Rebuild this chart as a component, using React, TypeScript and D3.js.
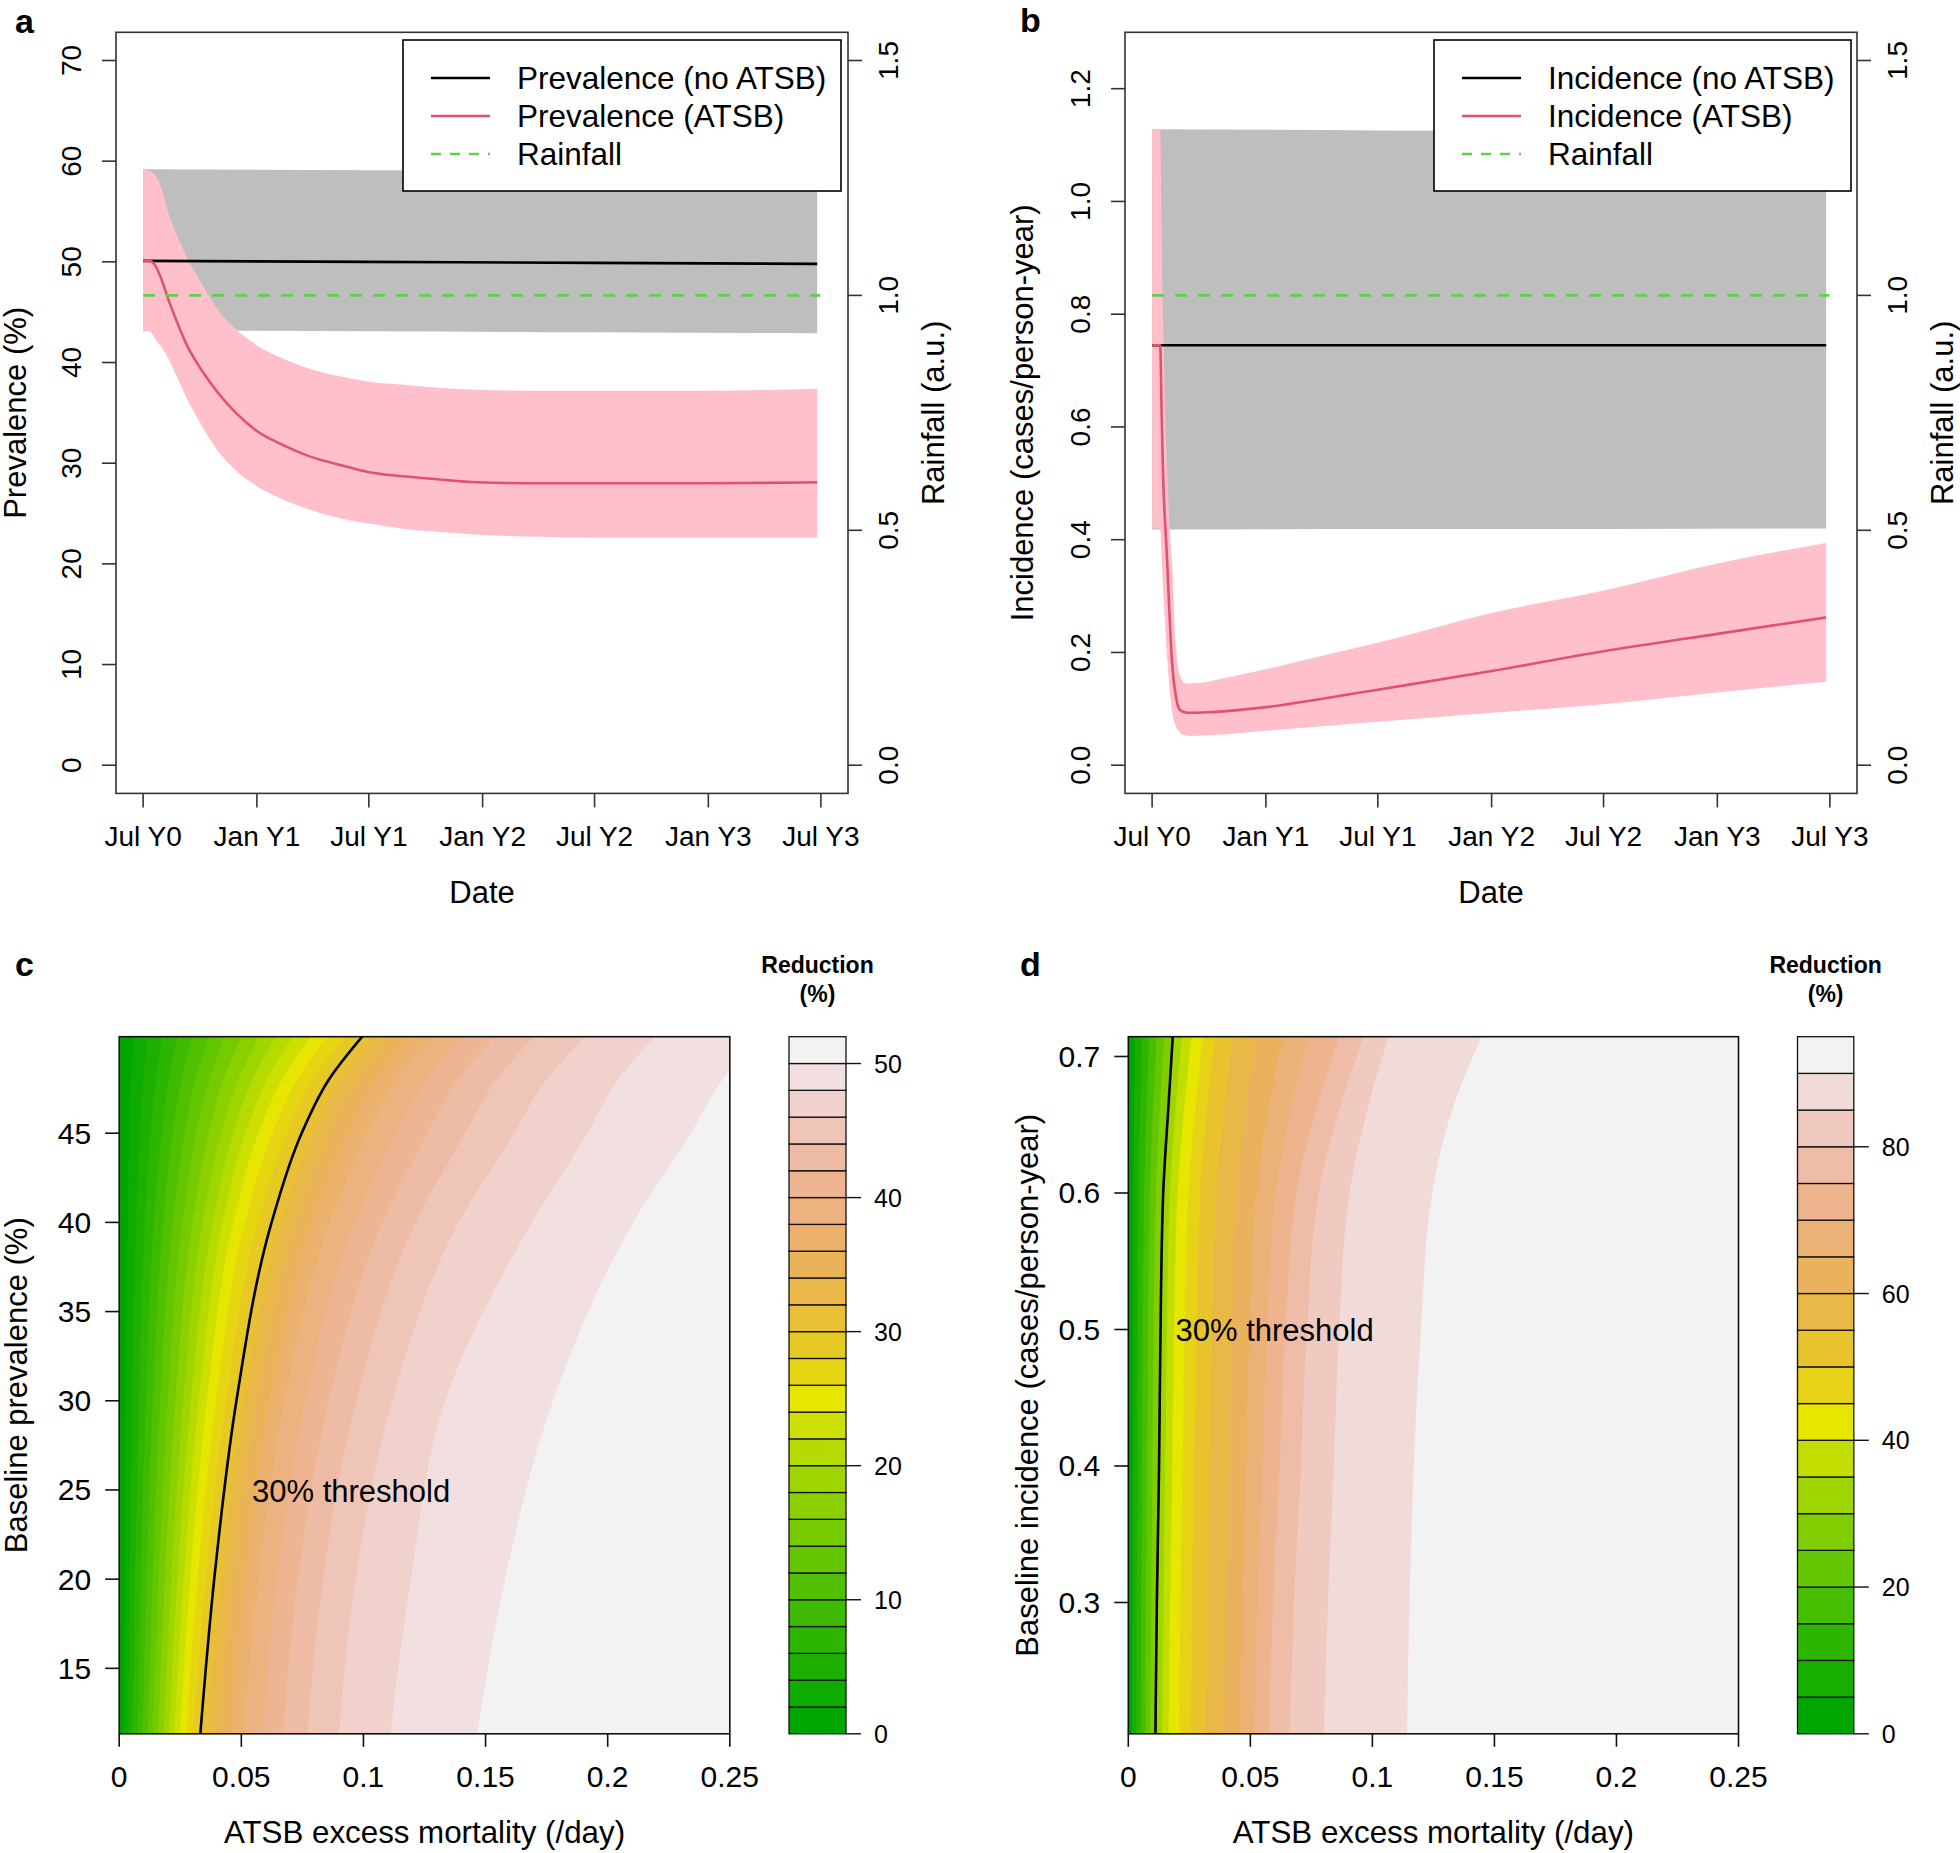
import React, { useEffect, useRef } from "react";
import * as d3 from "d3";

const W = 1960;
const H = 1853;
const FONT = "'Liberation Sans', Arial, Helvetica, sans-serif";

// ---- time axis (days since Jul Y0) ----
const tickDays = [0, 184, 365, 549, 730, 914, 1096];
const tickLabels = ["Jul Y0", "Jan Y1", "Jul Y1", "Jan Y2", "Jul Y2", "Jan Y3", "Jul Y3"];

// ---- panel a: prevalence ----
const prevNoDays = [0, 365, 730, 1090];
const prevNo = [50.1, 50.0, 49.9, 49.8];
const prevNoHi = [59.2, 59.1, 59.0, 58.9];
const prevNoLo = [43.2, 43.1, 43.0, 42.9];

const prevDays = [0, 10, 20, 30, 40, 55, 71, 95, 121, 150, 184, 230, 273, 320, 365, 420, 476, 540, 640, 730, 916, 1090];
const prevAtsb = [50.1, 50.1, 49.6, 48.2, 46.4, 44.0, 41.7, 39.2, 37.0, 35.0, 33.2, 31.7, 30.6, 29.8, 29.1, 28.7, 28.4, 28.1, 28.0, 28.0, 28.0, 28.1];
const prevAtsbHi = [59.2, 59.0, 58.6, 57.2, 55.0, 52.6, 50.4, 47.8, 45.2, 43.3, 41.7, 40.3, 39.3, 38.6, 38.1, 37.8, 37.5, 37.3, 37.2, 37.2, 37.2, 37.4];
const prevAtsbLo = [43.1, 43.1, 42.3, 41.5, 40.5, 38.5, 36.4, 33.7, 31.2, 29.3, 27.7, 26.3, 25.3, 24.5, 24.0, 23.5, 23.2, 22.9, 22.7, 22.6, 22.6, 22.6];

// ---- panel b: incidence ----
const incNoDays = [0, 365, 730, 1090];
const incNo = [0.745, 0.745, 0.745, 0.745];
const incNoHi = [1.128, 1.126, 1.124, 1.12];
const incNoLo = [0.418, 0.419, 0.419, 0.42];

const incDays = [0, 13, 15.5, 18, 21, 24, 28, 32, 38, 45, 53, 61, 90, 120, 184, 275, 365, 549, 730, 914, 1090];
const incAtsb = [0.745, 0.745, 0.62, 0.505, 0.43, 0.37, 0.27, 0.186, 0.125, 0.098, 0.094, 0.093, 0.094, 0.096, 0.103, 0.118, 0.134, 0.167, 0.202, 0.233, 0.262];
const incAtsbHi = [1.128, 1.128, 0.93, 0.78, 0.63, 0.53, 0.43, 0.364, 0.22, 0.16, 0.146, 0.145, 0.148, 0.155, 0.17, 0.194, 0.217, 0.27, 0.31, 0.358, 0.394];
const incAtsbLo = [0.42, 0.42, 0.364, 0.31, 0.25, 0.195, 0.14, 0.097, 0.07, 0.058, 0.053, 0.052, 0.053, 0.055, 0.061, 0.069, 0.077, 0.093, 0.108, 0.129, 0.148];

const rainDays = [0, 1095];
const rain = [1, 1];

// ---- panel c: reduction in prevalence, contour edges (mortality at each level, per baseline row) ----
const cLevels = [0, 2, 4, 6, 8, 10, 12, 14, 16, 18, 20, 22, 24, 26, 28, 30, 32, 34, 36, 38, 40, 42, 44, 46, 48, 50, 52];
const cRows = [11.3, 20, 30, 40, 45, 48, 50.5];
const cEdges = [
  [0.0018, 0.0037, 0.0056, 0.0076, 0.0096, 0.0117, 0.0137, 0.0159, 0.0182, 0.0204, 0.0225, 0.0248, 0.0274, 0.0302, 0.0332, 0.0368, 0.0408, 0.0455, 0.051, 0.0585, 0.067, 0.077, 0.09, 0.111, 0.1466],
  [0.0021, 0.0043, 0.0065, 0.0089, 0.0112, 0.0137, 0.0161, 0.0187, 0.0213, 0.0238, 0.0264, 0.0291, 0.0321, 0.0354, 0.0389, 0.0425, 0.0465, 0.0513, 0.057, 0.0646, 0.0732, 0.0834, 0.0968, 0.1194, 0.158],
  [0.0026, 0.0053, 0.0081, 0.0109, 0.0138, 0.0168, 0.0199, 0.023, 0.0263, 0.0294, 0.0326, 0.0359, 0.0396, 0.0437, 0.048, 0.052, 0.0564, 0.0617, 0.0679, 0.0763, 0.0858, 0.0971, 0.1118, 0.1335, 0.1776],
  [0.0034, 0.0069, 0.0105, 0.0142, 0.018, 0.0219, 0.0258, 0.03, 0.0341, 0.0383, 0.0424, 0.0467, 0.0515, 0.0568, 0.0624, 0.0671, 0.0725, 0.0789, 0.0863, 0.0964, 0.1078, 0.1213, 0.139, 0.169, 0.2105],
  [0.0041, 0.0085, 0.0128, 0.0174, 0.0219, 0.0267, 0.0315, 0.0366, 0.0417, 0.0467, 0.0517, 0.057, 0.0627, 0.0688, 0.0747, 0.0801, 0.0862, 0.0934, 0.1018, 0.1133, 0.1263, 0.1416, 0.1617, 0.1917, 0.234],
  [0.0048, 0.0099, 0.015, 0.0203, 0.0256, 0.0312, 0.0368, 0.0427, 0.0487, 0.0545, 0.0604, 0.0666, 0.0728, 0.0794, 0.0858, 0.0914, 0.0976, 0.105, 0.1136, 0.1254, 0.1387, 0.1543, 0.1749, 0.2042, 0.247],
  [0.0057, 0.0117, 0.0177, 0.024, 0.0303, 0.037, 0.0436, 0.0505, 0.0576, 0.0645, 0.0715, 0.0788, 0.0856, 0.093, 0.1, 0.1057, 0.1121, 0.1197, 0.1286, 0.1407, 0.1544, 0.1705, 0.1917, 0.22, 0.262],
];

// ---- panel d: reduction in incidence ----
const dLevels = [0, 5, 10, 15, 20, 25, 30, 35, 40, 45, 50, 55, 60, 65, 70, 75, 80, 85, 90, 95];
const dRows = [0.2, 0.3, 0.4, 0.5, 0.6, 0.665, 0.72];
const dEdges = [
  [0.0016, 0.0033, 0.0051, 0.007, 0.009, 0.0111, 0.0139, 0.0165, 0.0208, 0.0255, 0.0317, 0.0392, 0.0454, 0.0515, 0.0575, 0.066, 0.0801, 0.1142],
  [0.0017, 0.0034, 0.0053, 0.0073, 0.0094, 0.0117, 0.0144, 0.0171, 0.0214, 0.0261, 0.0324, 0.04, 0.0465, 0.0529, 0.0593, 0.0679, 0.0818, 0.1152],
  [0.0018, 0.0037, 0.0056, 0.0077, 0.0099, 0.0126, 0.0151, 0.018, 0.0223, 0.027, 0.0334, 0.0413, 0.0482, 0.055, 0.062, 0.0707, 0.0842, 0.117],
  [0.0019, 0.0039, 0.0059, 0.0081, 0.0104, 0.0132, 0.0158, 0.0187, 0.0231, 0.0279, 0.0344, 0.0424, 0.0496, 0.0568, 0.0644, 0.0732, 0.0864, 0.1199],
  [0.0021, 0.0042, 0.0065, 0.0088, 0.0113, 0.0143, 0.0171, 0.0202, 0.0247, 0.0294, 0.0361, 0.0444, 0.0524, 0.0603, 0.0689, 0.078, 0.0906, 0.1245],
  [0.0024, 0.0049, 0.0075, 0.0102, 0.013, 0.0165, 0.0195, 0.023, 0.0276, 0.0324, 0.0395, 0.0484, 0.0577, 0.067, 0.0776, 0.0871, 0.0985, 0.1335],
  [0.0028, 0.0057, 0.0087, 0.0118, 0.015, 0.0184, 0.0222, 0.0262, 0.031, 0.0358, 0.0433, 0.0529, 0.0638, 0.0747, 0.0875, 0.0975, 0.1076, 0.1462],
];

const mortTicks = [0, 0.05, 0.1, 0.15, 0.2, 0.25];

// R's hsv() and terrain.colors()
function hsv(h, s, v) {
  const hh = ((h * 6) % 6 + 6) % 6;
  const i = Math.floor(hh + 1e-9) % 6;
  const f = Math.max(0, hh - i);
  const p = v * (1 - s);
  const q = v * (1 - f * s);
  const t = v * (1 - (1 - f) * s);
  const rgb = [[v, t, p], [q, v, p], [p, v, t], [p, q, v], [t, p, v], [v, p, q]][i];
  return d3.rgb(rgb[0] * 255, rgb[1] * 255, rgb[2] * 255).formatHex();
}

function terrainColors(n) {
  const k = Math.floor(n / 2);
  const out = [];
  for (let i = 0; i < k; i++) {
    const t = k > 1 ? i / (k - 1) : 0;
    out.push(hsv(4 / 12 - (2 / 12) * t, 1, 0.65 + 0.25 * t));
  }
  for (let j = 1; j <= n - k; j++) {
    const t = j / (n - k);
    out.push(hsv(2 / 12 - (2 / 12) * t, 1 - t, 0.9 + 0.05 * t));
  }
  return out;
}

const t0 = Date.UTC(2001, 6, 1);
const dayToDate = (d) => new Date(t0 + d * 864e5);

function txt(g, x, y, s, size, opts: any = {}) {
  const el = g
    .append("text")
    .attr("x", x)
    .attr("y", y)
    .attr("font-family", FONT)
    .attr("font-size", size)
    .attr("fill", "#000")
    .attr("dominant-baseline", opts.baseline || "central")
    .attr("text-anchor", opts.anchor || "middle")
    .text(s);
  if (opts.bold) el.attr("font-weight", "bold");
  if (opts.rotate) el.attr("transform", `rotate(-90, ${x}, ${y})`);
  return el;
}

function drawTime(svg, o) {
  const { l, r, t, b } = o.box;
  const pad = ((r - l) * 0.04) / 1.08;
  const x = d3.scaleUtc().domain([dayToDate(0), dayToDate(1096)]).range([l + pad, r - pad]);
  const y = d3.scaleLinear().domain(o.yDomain).range([b, t]);
  const y2 = d3.scaleLinear().domain([-0.06, 1.56]).range([b, t]);
  const g = svg.append("g");

  const pts = (days, v, lo, hi) => days.map((d, i) => ({ d, v: v[i], lo: lo ? lo[i] : 0, hi: hi ? hi[i] : 0 }));
  const band = d3
    .area<any>()
    .x((p) => x(dayToDate(p.d)))
    .y0((p) => y(p.lo))
    .y1((p) => y(p.hi))
    .curve(d3.curveMonotoneX);
  const line = d3
    .line<any>()
    .x((p) => x(dayToDate(p.d)))
    .y((p) => y(p.v))
    .curve(d3.curveMonotoneX);

  const noPts = pts(o.noDays, o.no, o.noLo, o.noHi);
  const atPts = pts(o.atDays, o.at, o.atLo, o.atHi);

  g.append("path").attr("d", band(noPts)).attr("fill", "#BEBEBE");
  g.append("path").attr("d", band(atPts)).attr("fill", "#FFC0CB");
  g.append("path").attr("d", line(noPts)).attr("fill", "none").attr("stroke", "#000").attr("stroke-width", 2.6);
  g.append("path").attr("d", line(atPts)).attr("fill", "none").attr("stroke", "#DF536B").attr("stroke-width", 2.6);
  g.append("path")
    .attr(
      "d",
      d3
        .line<any>()
        .x((p) => x(dayToDate(p.d)))
        .y((p) => y2(p.v))(pts(rainDays, rain, null, null))
    )
    .attr("fill", "none")
    .attr("stroke", "#61D04F")
    .attr("stroke-width", 2.6)
    .attr("stroke-dasharray", "12,11");

  // box
  g.append("rect").attr("x", l).attr("y", t).attr("width", r - l).attr("height", b - t).attr("fill", "none").attr("stroke", "#333").attr("stroke-width", 1.6);

  // x axis
  tickDays.forEach((d, i) => {
    const px = x(dayToDate(d));
    g.append("line").attr("x1", px).attr("x2", px).attr("y1", b).attr("y2", b + 14).attr("stroke", "#333").attr("stroke-width", 1.6);
    txt(g, px, b + 43, tickLabels[i], 28);
  });
  txt(g, (l + r) / 2, b + 99, "Date", 31);

  // left axis
  o.yTicks.forEach((v) => {
    g.append("line").attr("x1", l - 14).attr("x2", l).attr("y1", y(v)).attr("y2", y(v)).attr("stroke", "#333").attr("stroke-width", 1.6);
    txt(g, l - 44, y(v), o.yFmt(v), 28, { rotate: true });
  });
  txt(g, o.yTitleX, (t + b) / 2, o.yTitle, 31, { rotate: true });

  // right axis (rainfall)
  [0, 0.5, 1, 1.5].forEach((v) => {
    g.append("line").attr("x1", r).attr("x2", r + 14).attr("y1", y2(v)).attr("y2", y2(v)).attr("stroke", "#333").attr("stroke-width", 1.6);
    txt(g, r + 41, y2(v), d3.format(".1f")(v), 28, { rotate: true });
  });
  txt(g, r + 86, (t + b) / 2, "Rainfall (a.u.)", 31, { rotate: true });

  // legend
  const L = o.legend;
  g.append("rect").attr("x", L.x).attr("y", L.y).attr("width", L.w).attr("height", L.h).attr("fill", "#fff").attr("stroke", "#000").attr("stroke-width", 1.6);
  const entries = [
    { label: o.names[0], color: "#000", dash: null },
    { label: o.names[1], color: "#DF536B", dash: null },
    { label: "Rainfall", color: "#61D04F", dash: "12,11" },
  ];
  entries.forEach((e, i) => {
    const ey = L.y + 38 + i * 38;
    const ln = g.append("line").attr("x1", L.x + 28).attr("x2", L.x + 87).attr("y1", ey).attr("y2", ey).attr("stroke", e.color).attr("stroke-width", 2.6);
    if (e.dash) ln.attr("stroke-dasharray", "10,9");
    txt(g, L.x + 114, ey, e.label, 31.5, { anchor: "start" });
  });

  txt(g, o.tag.x, o.tag.y, o.tag.s, 34, { anchor: "start", baseline: "alphabetic", bold: true });
}

function drawContour(svg, o) {
  const { l, r, t, b } = o.box;
  const x = d3.scaleLinear().domain([0, 0.25]).range([l, r]);
  const y = d3.scaleLinear().domain(o.yDomain).range([b, t]);
  const colors = terrainColors(o.levels.length - 1);
  const clipId = o.id + "-clip";
  svg.append("clipPath").attr("id", clipId).append("rect").attr("x", l).attr("y", t).attr("width", r - l).attr("height", b - t);
  const g = svg.append("g").attr("clip-path", `url(#${clipId})`);
  g.append("rect").attr("x", l).attr("y", t).attr("width", r - l).attr("height", b - t).attr("fill", colors[0]);

  const area = d3
    .area<any>()
    .y((p) => y(p[1]))
    .x0((p) => x(p[0]))
    .x1(() => r + 20)
    .curve(d3.curveMonotoneY);
  const edge = (k) => o.rows.map((p, ri) => [o.edges[ri][k], p]).reverse();
  const nEdges = o.edges[0].length;
  for (let k = 0; k < nEdges; k++) {
    g.append("path").attr("d", area(edge(k))).attr("fill", colors[k + 1]);
  }
  const contour = d3
    .line<any>()
    .x((p) => x(p[0]))
    .y((p) => y(p[1]))
    .curve(d3.curveMonotoneY);
  g.append("path").attr("d", contour(edge(o.thresholdIndex))).attr("fill", "none").attr("stroke", "#000").attr("stroke-width", 2.6);

  const a = svg.append("g");
  a.append("rect").attr("x", l).attr("y", t).attr("width", r - l).attr("height", b - t).attr("fill", "none").attr("stroke", "#111").attr("stroke-width", 1.6);
  mortTicks.forEach((v) => {
    a.append("line").attr("x1", x(v)).attr("x2", x(v)).attr("y1", b).attr("y2", b + 13).attr("stroke", "#111").attr("stroke-width", 1.6);
    txt(a, x(v), b + 43, String(v), 30);
  });
  txt(a, (l + r) / 2, b + 99, "ATSB excess mortality (/day)", 31.3);
  o.yTicks.forEach((v) => {
    a.append("line").attr("x1", l - 14).attr("x2", l).attr("y1", y(v)).attr("y2", y(v)).attr("stroke", "#111").attr("stroke-width", 1.6);
    txt(a, l - 28, y(v), o.yFmt(v), 30, { anchor: "end" });
  });
  txt(a, o.yTitleX, (t + b) / 2, o.yTitle, 31, { rotate: true });
  txt(a, o.label.x, o.label.y, "30% threshold", 31, { anchor: "start" });

  // colour key
  const cb = o.key;
  const lv = o.levels;
  const cy = d3.scaleLinear().domain([lv[0], lv[lv.length - 1]]).range([b, t]);
  for (let i = 0; i < lv.length - 1; i++) {
    a.append("rect")
      .attr("x", cb.l)
      .attr("y", cy(lv[i + 1]))
      .attr("width", cb.r - cb.l)
      .attr("height", cy(lv[i]) - cy(lv[i + 1]))
      .attr("fill", colors[i])
      .attr("stroke", "#111")
      .attr("stroke-width", 1.3);
  }
  o.keyTicks.forEach((v) => {
    a.append("line").attr("x1", cb.r).attr("x2", cb.r + 15).attr("y1", cy(v)).attr("y2", cy(v)).attr("stroke", "#111").attr("stroke-width", 1.4);
    txt(a, cb.r + 28, cy(v), String(v), 25, { anchor: "start" });
  });
  const kx = (cb.l + cb.r) / 2;
  txt(a, kx, 965, "Reduction", 23, { bold: true });
  txt(a, kx, 994, "(%)", 23, { bold: true });
  txt(a, o.tag.x, o.tag.y, o.tag.s, 34, { anchor: "start", baseline: "alphabetic", bold: true });
}

export default function App() {
  const svgRef = useRef<SVGSVGElement>(null);

  useEffect(() => {
    const svg = d3.select(svgRef.current);
    svg.selectAll("*").remove();

    drawTime(svg, {
      box: { l: 116, r: 848, t: 32.3, b: 793.4 },
      yDomain: [-2.8, 72.8],
      yTicks: [0, 10, 20, 30, 40, 50, 60, 70],
      yFmt: (v) => String(v),
      yTitle: "Prevalence (%)",
      yTitleX: 16,
      noDays: prevNoDays, no: prevNo, noLo: prevNoLo, noHi: prevNoHi,
      atDays: prevDays, at: prevAtsb, atLo: prevAtsbLo, atHi: prevAtsbHi,
      names: ["Prevalence (no ATSB)", "Prevalence (ATSB)"],
      legend: { x: 403, y: 40, w: 438, h: 151 },
      tag: { x: 15, y: 33, s: "a" },
    });

    drawTime(svg, {
      box: { l: 1125, r: 1857, t: 32.3, b: 793.4 },
      yDomain: [-0.05, 1.3],
      yTicks: [0, 0.2, 0.4, 0.6, 0.8, 1.0, 1.2],
      yFmt: d3.format(".1f"),
      yTitle: "Incidence (cases/person-year)",
      yTitleX: 1023,
      noDays: incNoDays, no: incNo, noLo: incNoLo, noHi: incNoHi,
      atDays: incDays, at: incAtsb, atLo: incAtsbLo, atHi: incAtsbHi,
      names: ["Incidence (no ATSB)", "Incidence (ATSB)"],
      legend: { x: 1434, y: 40, w: 417, h: 151 },
      tag: { x: 1020, y: 32, s: "b" },
    });

    drawContour(svg, {
      id: "c",
      box: { l: 119.2, r: 729.8, t: 1036.7, b: 1733.8 },
      yDomain: [11.33, 50.41],
      yTicks: [15, 20, 25, 30, 35, 40, 45],
      yFmt: (v) => String(v),
      yTitle: "Baseline prevalence (%)",
      yTitleX: 16,
      levels: cLevels,
      rows: cRows,
      edges: cEdges,
      thresholdIndex: 14,
      label: { x: 252, y: 1491 },
      key: { l: 789, r: 846 },
      keyTicks: [0, 10, 20, 30, 40, 50],
      tag: { x: 15, y: 976, s: "c" },
    });

    drawContour(svg, {
      id: "d",
      box: { l: 1128.3, r: 1738.5, t: 1036.7, b: 1733.8 },
      yDomain: [0.2038, 0.7145],
      yTicks: [0.3, 0.4, 0.5, 0.6, 0.7],
      yFmt: (v) => String(v),
      yTitle: "Baseline incidence (cases/person-year)",
      yTitleX: 1027,
      levels: dLevels,
      rows: dRows,
      edges: dEdges,
      thresholdIndex: 5,
      label: { x: 1175.5, y: 1330.5 },
      key: { l: 1797.5, r: 1853.8 },
      keyTicks: [0, 20, 40, 60, 80],
      tag: { x: 1020, y: 976, s: "d" },
    });
  }, []);

  return (
    <svg
      ref={svgRef}
      width={W}
      height={H}
      style={{ position: "absolute", left: 0, top: 0, background: "#fff", display: "block" }}
    />
  );
}
